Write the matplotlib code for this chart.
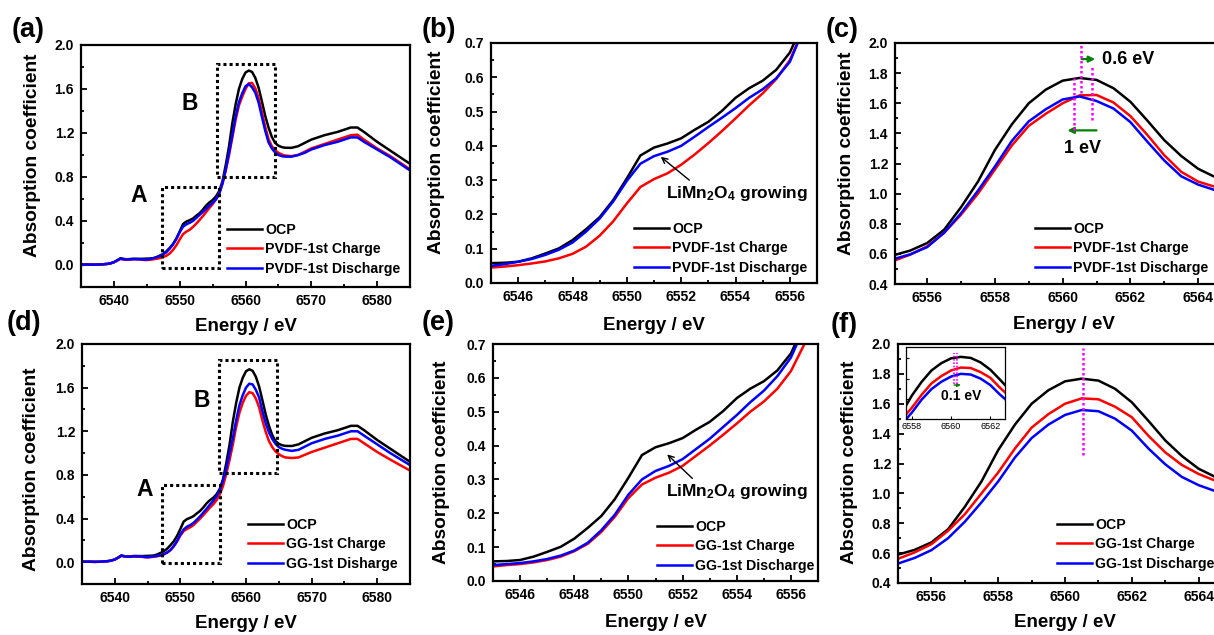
import numpy as np
import matplotlib
matplotlib.use("Agg")
import matplotlib.pyplot as plt
from matplotlib.ticker import MultipleLocator
from matplotlib.patches import Rectangle

plt.rcParams['font.family'] = ['Liberation Sans', 'DejaVu Sans']
plt.rcParams['font.weight'] = 'bold'
plt.rcParams['mathtext.fontset'] = 'custom'
plt.rcParams['mathtext.rm'] = 'Liberation Sans:bold'
plt.rcParams['mathtext.default'] = 'rm'

# ---- données (Mn K-edge XANES) ----
energie = [6535, 6536, 6537, 6538, 6539, 6539.5, 6540, 6540.5, 6541, 6541.5, 6542, 6543, 6544, 6544.5,
           6545, 6545.5, 6546, 6546.5, 6547, 6547.5, 6548, 6548.5, 6549, 6549.5,
           6550, 6550.5, 6551, 6551.5, 6552, 6552.5, 6553, 6553.5, 6554, 6554.5,
           6555, 6555.5, 6556, 6556.5, 6557, 6557.5, 6558, 6558.5, 6559, 6559.5,
           6560, 6560.5, 6561, 6561.5, 6562, 6562.5, 6563, 6563.5, 6564, 6564.5,
           6565, 6565.5, 6566, 6567, 6568, 6569, 6570, 6572, 6574, 6575, 6576, 6577, 6578, 6580, 6582, 6585]

ocp = [0.005, 0.005, 0.003, 0.005, 0.010, 0.015, 0.025, 0.042, 0.062, 0.055, 0.052, 0.057, 0.056, 0.057,
       0.058, 0.059, 0.062, 0.072, 0.086, 0.101, 0.125, 0.157, 0.192, 0.242,
       0.305, 0.372, 0.395, 0.407, 0.422, 0.447, 0.470, 0.502, 0.540, 0.568,
       0.590, 0.622, 0.672, 0.76, 0.91, 1.08, 1.29, 1.46, 1.60, 1.69,
       1.75, 1.768, 1.755, 1.70, 1.61, 1.485, 1.355, 1.25, 1.165, 1.11,
       1.085, 1.072, 1.066, 1.065, 1.08, 1.11, 1.14, 1.18, 1.21, 1.23, 1.25, 1.25, 1.21, 1.12, 1.04, 0.92]

pvdf_charge = [0.000, 0.003, 0.003, 0.004, 0.010, 0.015, 0.025, 0.040, 0.055, 0.050, 0.048, 0.052, 0.050, 0.046,
               0.045, 0.048, 0.052, 0.057, 0.063, 0.072, 0.085, 0.106, 0.138, 0.180,
               0.232, 0.280, 0.303, 0.320, 0.345, 0.375, 0.408, 0.443, 0.480, 0.518,
               0.553, 0.595, 0.650, 0.74, 0.86, 1.00, 1.16, 1.32, 1.45, 1.53,
               1.60, 1.652, 1.655, 1.605, 1.515, 1.39, 1.255, 1.145, 1.08, 1.045,
               1.02, 1.005, 0.995, 0.99, 1.00, 1.03, 1.06, 1.10, 1.14, 1.16, 1.18, 1.185, 1.14, 1.06, 0.99, 0.87]

pvdf_decharge = [0.002, 0.004, 0.003, 0.005, 0.010, 0.016, 0.026, 0.042, 0.058, 0.052, 0.050, 0.054, 0.052, 0.050,
                 0.050, 0.055, 0.062, 0.070, 0.082, 0.097, 0.118, 0.150, 0.188, 0.238,
                 0.298, 0.348, 0.370, 0.383, 0.400, 0.427, 0.455, 0.482, 0.510, 0.540,
                 0.565, 0.597, 0.645, 0.74, 0.87, 1.02, 1.18, 1.35, 1.48, 1.56,
                 1.625, 1.645, 1.615, 1.565, 1.475, 1.345, 1.22, 1.115, 1.06, 1.023,
                 1.00, 0.99, 0.985, 0.985, 1.00, 1.02, 1.05, 1.09, 1.12, 1.14, 1.16, 1.16, 1.12, 1.05, 0.98, 0.86]

gg_charge = [0.004, 0.004, 0.003, 0.004, 0.010, 0.015, 0.024, 0.040, 0.058, 0.052, 0.050, 0.053, 0.050, 0.046,
             0.043, 0.047, 0.050, 0.055, 0.062, 0.072, 0.088, 0.110, 0.145, 0.190,
             0.245, 0.285, 0.305, 0.320, 0.340, 0.370, 0.400, 0.432, 0.465, 0.500,
             0.530, 0.568, 0.620, 0.70, 0.81, 0.94, 1.08, 1.24, 1.37, 1.46,
             1.525, 1.558, 1.55, 1.50, 1.42, 1.30, 1.195, 1.11, 1.055, 1.015,
             0.99, 0.972, 0.96, 0.955, 0.96, 0.985, 1.01, 1.05, 1.09, 1.11, 1.13, 1.13, 1.09, 1.01, 0.94, 0.84]

gg_decharge = [0.004, 0.004, 0.003, 0.005, 0.010, 0.016, 0.025, 0.041, 0.060, 0.053, 0.050, 0.054, 0.052, 0.049,
               0.047, 0.050, 0.053, 0.058, 0.065, 0.075, 0.090, 0.113, 0.150, 0.196,
               0.255, 0.300, 0.325, 0.340, 0.360, 0.390, 0.420, 0.455, 0.490, 0.528,
               0.562, 0.605, 0.660, 0.75, 0.86, 1.00, 1.14, 1.30, 1.44, 1.53,
               1.60, 1.636, 1.63, 1.58, 1.51, 1.385, 1.275, 1.19, 1.13, 1.085,
               1.055, 1.04, 1.03, 1.02, 1.03, 1.06, 1.09, 1.13, 1.16, 1.18, 1.20, 1.20, 1.16, 1.08, 1.00, 0.89]

labels_pvdf = ["OCP", "PVDF-1st Charge", "PVDF-1st Discharge"]
labels_gg = ["OCP", "GG-1st Charge", "GG-1st Discharge"]
labels_gg_d = ["OCP", "GG-1st Charge", "GG-1st Disharge"]

# zones A / B encadrées (eV, coefficient)
zone_a_pvdf = (6547.3, -0.03, 6556.0, 0.706)
zone_b_pvdf = (6555.7, 0.80, 6564.5, 1.83)
zone_a_gg = (6547.2, -0.005, 6556.05, 0.705)
zone_b_gg = (6555.9, 0.82, 6564.65, 1.856)

COUL = ['black', '#ff0000', '#0000ff']
W, H = 1214, 635


def ax_px(fig, gauche, haut, droite, bas):
    """Crée un axe à partir de coordonnées pixels (origine en haut à gauche)"""
    return fig.add_axes([gauche / W, 1 - bas / H, (droite - gauche) / W, (bas - haut) / H])


def style_axe(ax, xlim, ylim, xmaj, xmin, ymaj, ymin, lab_x, lab_y, lab_yc):
    ax.set_xlim(*xlim)
    ax.set_ylim(*ylim)
    ax.xaxis.set_major_locator(MultipleLocator(xmaj))
    ax.xaxis.set_minor_locator(MultipleLocator(xmin))
    ax.yaxis.set_major_locator(MultipleLocator(ymaj))
    ax.yaxis.set_minor_locator(MultipleLocator(ymin))
    ax.tick_params(which='both', direction='in', width=1.3, labelsize=10, pad=5)
    ax.tick_params(which='major', length=4)
    ax.tick_params(which='minor', length=2.5)
    for sp in ax.spines.values():
        sp.set_linewidth(1.6)
    for lab in ax.get_xticklabels() + ax.get_yticklabels():
        lab.set_fontweight('bold')
    ax.set_xlabel("Energy / eV", fontsize=13.5, fontweight='bold', va='center')
    ax.set_ylabel("Absorption coefficient", fontsize=13.8, fontweight='bold', va='center')
    ax.xaxis.set_label_coords(0.5, lab_x)
    ax.yaxis.set_label_coords(lab_y, lab_yc)


def tracer(ax, series, labels, leg_x, leg_y):
    for y, c, lab in zip(series, COUL, labels):
        ax.plot(energie, y, color=c, lw=1.8, label=lab)
    ax.legend(loc='upper left', bbox_to_anchor=(leg_x / W, 1 - leg_y / H), bbox_transform=ax.figure.transFigure,
              frameon=False, handlelength=2.45, handletextpad=0.25, labelspacing=0.38,
              borderpad=0, borderaxespad=0, prop={'weight': 'bold', 'size': 10.2})


def cadre(ax, zone):
    x0, y0, x1, y1 = zone
    ax.add_patch(Rectangle((x0, y0), x1 - x0, y1 - y0, fill=False, ec='black', lw=2.2, ls=(0, (1, 1)), zorder=5))


def fleche(ax, x0, x1, y):
    ax.annotate("", xy=(x1, y), xytext=(x0, y),
                arrowprops=dict(arrowstyle='-|>', color='#008000', lw=1.6, mutation_scale=9, shrinkA=0, shrinkB=0))


def vline(ax, x, y0, y1, lw=1.8):
    ax.plot([x, x], [y0, y1], color='#ff00ff', lw=lw, ls=(0, (1, 1)), zorder=6)


fig = plt.figure(figsize=(W / 100, H / 100), dpi=100)

# (a)
ax = ax_px(fig, 81, 45, 410, 287)
tracer(ax, [ocp, pvdf_charge, pvdf_decharge], labels_pvdf, 227, 223)
style_axe(ax, (6535, 6585), (-0.2, 2.0), 10, 5, 0.4, 0.2, -0.165, -0.146, 0.545)
cadre(ax, zone_a_pvdf)
cadre(ax, zone_b_pvdf)
ax.text(6543.7, 0.636, "A", fontsize=16.5, fontweight='bold', ha='center', va='center')
ax.text(6551.5, 1.464, "B", fontsize=16.5, fontweight='bold', ha='center', va='center')

# (b)
ax = ax_px(fig, 491, 43, 817, 283)
tracer(ax, [ocp, pvdf_charge, pvdf_decharge], labels_pvdf, 634, 222)
style_axe(ax, (6545, 6557), (0.0, 0.7), 2, 1, 0.1, 0.05, -0.175, -0.166, 0.544)
ax.annotate("", xy=(6551.25, 0.368), xytext=(6552.3, 0.30),
            arrowprops=dict(arrowstyle='->', color='black', lw=1.0, shrinkA=0, shrinkB=0))
ax.text(6551.45, 0.262, "LiMn$_2$O$_4$ growing", fontsize=12.5, fontweight='bold', ha='left', va='center')

# (c)
ax = ax_px(fig, 895, 43, 1232, 284)
tracer(ax, [ocp, pvdf_charge, pvdf_decharge], labels_pvdf, 1035, 222)
style_axe(ax, (6555.05, 6565), (0.4, 2.0), 2, 1, 0.2, 0.1, -0.17, -0.145, 0.541)
vline(ax, 6560.53, 1.67, 2.0)
vline(ax, 6560.34, 1.42, 1.77)
vline(ax, 6560.86, 1.49, 1.855)
fleche(ax, 6560.56, 6560.96, 1.893)
fleche(ax, 6561.0, 6560.14, 1.42)
ax.text(6561.15, 1.89, "0.6 eV", fontsize=13, fontweight='bold', ha='left', va='center')
ax.text(6560.6, 1.30, "1 eV", fontsize=13, fontweight='bold', ha='center', va='center')

# (d)
ax = ax_px(fig, 82, 344, 410, 584)
tracer(ax, [ocp, gg_charge, gg_decharge], labels_gg_d, 248, 518)
style_axe(ax, (6535, 6585), (-0.2, 2.0), 10, 5, 0.4, 0.2, -0.1625, -0.153, 0.479)
cadre(ax, zone_a_gg)
cadre(ax, zone_b_gg)
ax.text(6544.6, 0.665, "A", fontsize=16.5, fontweight='bold', ha='center', va='center')
ax.text(6553.2, 1.484, "B", fontsize=16.5, fontweight='bold', ha='center', va='center')

# (e)
ax = ax_px(fig, 493, 344, 818, 581)
tracer(ax, [ocp, gg_charge, gg_decharge], labels_gg, 657, 520)
style_axe(ax, (6545, 6557), (0.0, 0.7), 2, 1, 0.1, 0.05, -0.177, -0.157, 0.5)
ax.annotate("", xy=(6551.43, 0.374), xytext=(6552.36, 0.303),
            arrowprops=dict(arrowstyle='->', color='black', lw=1.0, shrinkA=0, shrinkB=0))
ax.text(6551.37, 0.264, "LiMn$_2$O$_4$ growing", fontsize=12.5, fontweight='bold', ha='left', va='center')

# (f) -- dans la figure d'origine les couleurs rouge/bleu y sont inversées
ax = ax_px(fig, 898, 344, 1232, 583)
tracer(ax, [ocp, gg_decharge, gg_charge], labels_gg, 1057, 518)
style_axe(ax, (6555, 6565), (0.4, 2.0), 2, 1, 0.2, 0.1, -0.167, -0.144, 0.507)
vline(ax, 6560.55, 1.26, 1.97)

# encart de (f)
axi = ax_px(fig, 906, 347, 1005, 419)
for y, c in zip([ocp, gg_decharge, gg_charge], COUL):
    axi.plot(energie, y, color=c, lw=1.8)
axi.set_xlim(6557.7, 6562.75)
axi.set_ylim(1.0, 1.89)
axi.xaxis.set_major_locator(MultipleLocator(2))
axi.set_yticks([1.25, 1.5, 1.75])
axi.set_yticklabels([])
axi.tick_params(direction='in', length=2.5, width=0.8, labelsize=6.5, pad=2)
for lab in axi.get_xticklabels():
    lab.set_fontweight('normal')
for sp in axi.spines.values():
    sp.set_linewidth(0.9)
vline(axi, 6560.15, 1.43, 1.81, lw=1.2)
vline(axi, 6560.30, 1.43, 1.81, lw=1.2)
axi.annotate("", xy=(6560.5, 1.42), xytext=(6560.15, 1.42),
             arrowprops=dict(arrowstyle='-|>', color='#008000', lw=1.0, mutation_scale=5, shrinkA=0, shrinkB=0))
axi.text(6560.5, 1.28, "0.1 eV", fontsize=10, fontweight='bold', ha='center', va='center')

# étiquettes des panneaux
for lettre, x, y in [("(a)", 12, 30), ("(b)", 422, 30), ("(c)", 826, 30),
                     ("(d)", 7, 323), ("(e)", 422, 323), ("(f)", 831, 325)]:
    fig.text(x / W, 1 - y / H, lettre, fontsize=19.5, fontweight='bold', ha='left', va='center')

fig.savefig("out.png", dpi=100)
